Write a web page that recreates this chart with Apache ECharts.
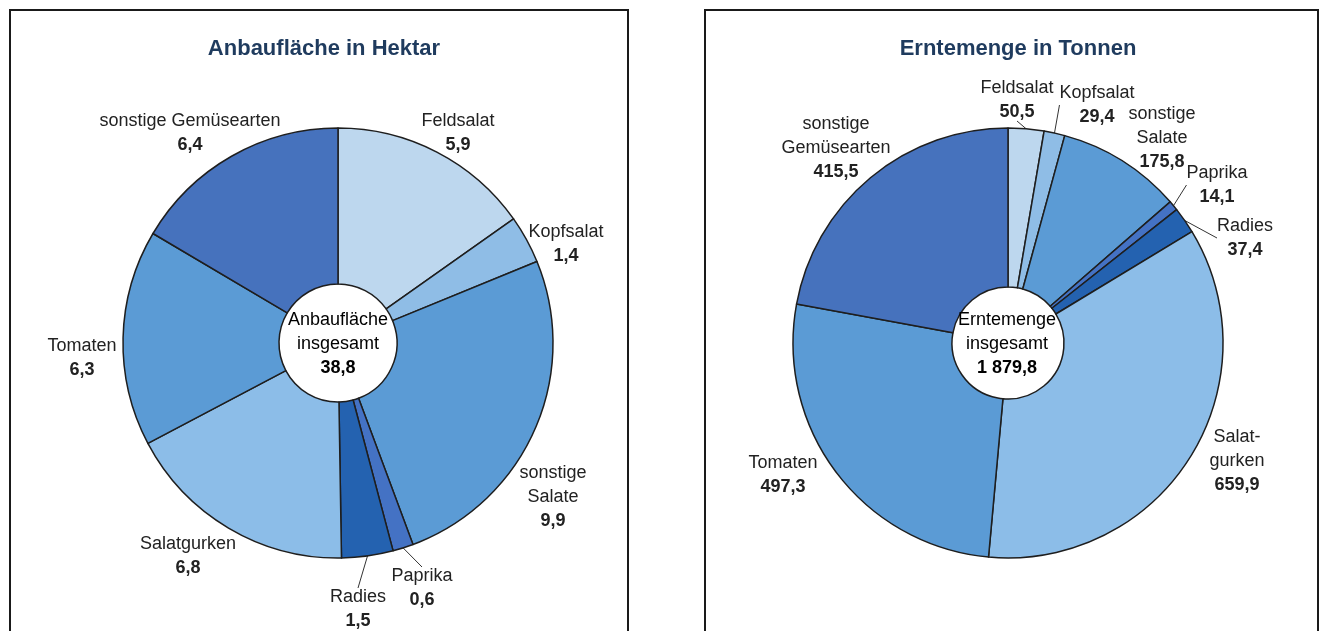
<!DOCTYPE html>
<html>
<head>
    <meta charset="UTF-8">
    <title>Anbaufläche und Erntemenge</title>
    <script src="https://cdn.jsdelivr.net/npm/echarts@6/dist/echarts.min.js"></script>
    <style>
        html, body { margin: 0; padding: 0; background: #fff; }
        #main { width: 1323px; height: 631px; }
    </style>
</head>
<body>
<div id="main"></div>
<script type="text/javascript">
    // Kategorien (im Uhrzeigersinn ab 12 Uhr)
    var categories = ['Feldsalat', 'Kopfsalat', 'sonstige Salate', 'Paprika', 'Radies', 'Salatgurken', 'Tomaten', 'sonstige Gemüsearten'];
    // Beschriftungen links / rechts (mit Zeilenumbruch)
    var namesLeft = ['Feldsalat', 'Kopfsalat', 'sonstige\nSalate', 'Paprika', 'Radies', 'Salatgurken', 'Tomaten', 'sonstige Gemüsearten'];
    var namesRight = ['Feldsalat', 'Kopfsalat', 'sonstige\nSalate', 'Paprika', 'Radies', 'Salat-\ngurken', 'Tomaten', 'sonstige\nGemüsearten'];
    var flaeche = [5.9, 1.4, 9.9, 0.6, 1.5, 6.8, 6.3, 6.4];
    var ernte = [50.5, 29.4, 175.8, 14.1, 37.4, 659.9, 497.3, 415.5];
    var flaecheGesamt = 38.8;
    var ernteGesamt = 1879.8;
    var colors = ['#bdd7ee', '#8fbde6', '#5b9bd5', '#4472c4', '#2462b0', '#8cbde8', '#5b9bd5', '#4672bd'];

    // Position der Beschriftungen (Textmitte)
    var posLeft = [[458, 133], [566, 244], [553, 497], [422, 588], [358, 609], [188, 556], [82, 358], [190, 133]];
    var posRight = [[1017, 100], [1097, 105], [1162, 138], [1217, 185], [1245, 238], [1237, 461], [783, 475], [836, 148]];
    var linesLeft = [false, false, false, true, true, false, false, false];
    var linesRight = [true, true, false, true, true, false, false, false];

    var font = '"Liberation Sans Narrow", "Liberation Sans", Arial, sans-serif';

    function fmt(v) {
        var s = v.toFixed(1).split('.');
        var ganz = s[0].replace(/\B(?=(\d{3})+(?!\d))/g, ' ');
        return ganz + ',' + s[1];
    }

    var richText = {
        n: { fontFamily: font, fontSize: 18, color: '#222', lineHeight: 24, align: 'center' },
        b: { fontFamily: font, fontSize: 18, fontWeight: 'bold', color: '#222', lineHeight: 24, align: 'center' }
    };

    function buildData(values, names, lines) {
        return values.map(function (v, i) {
            return {
                value: v,
                name: categories[i],
                label: {
                    formatter: function () {
                        return names[i].split('\n').map(function (t) { return '{n|' + t + '}'; }).join('\n') + '\n{b|' + fmt(v) + '}';
                    }
                },
                labelLine: { show: lines[i] },
                itemStyle: { color: colors[i] }
            };
        });
    }

    function buildSeries(values, names, lines, center, inner, pos) {
        return {
            type: 'pie',
            center: center,
            radius: [inner, 215],
            startAngle: 90,
            clockwise: true,
            silent: true,
            avoidLabelOverlap: false,
            itemStyle: { borderColor: '#1e1e1e', borderWidth: 1.5 },
            label: { show: true, position: 'outside', rich: richText },
            labelLine: { lineStyle: { color: '#333', width: 1 }, length: 10, length2: 0 },
            labelLayout: function (p) {
                var xy = pos[p.dataIndex];
                return { x: xy[0], y: xy[1], align: 'center', verticalAlign: 'middle' };
            },
            data: buildData(values, names, lines)
        };
    }

    function centerText(x, y, line1, total) {
        return {
            type: 'text',
            x: x,
            y: y,
            style: {
                text: '{n|' + line1 + '}\n{n|insgesamt}\n{b|' + fmt(total) + '}',
                align: 'center',
                verticalAlign: 'middle',
                rich: richText
            },
            z: 10
        };
    }

    var myChart = echarts.init(document.getElementById('main'));

    var option = {
        backgroundColor: '#fff',
        animation: false,
        title: [
            {
                text: 'Anbaufläche in Hektar', left: 319, top: 33, textAlign: 'center',
                textStyle: { fontFamily: font, fontSize: 22, fontWeight: 'bold', color: '#1f3b5e' }
            },
            {
                text: 'Erntemenge in Tonnen', left: 1013, top: 33, textAlign: 'center',
                textStyle: { fontFamily: font, fontSize: 22, fontWeight: 'bold', color: '#1f3b5e' }
            }
        ],
        graphic: [
            { type: 'rect', shape: { x: 10, y: 10, width: 618, height: 640 }, style: { fill: 'none', stroke: '#1a1a1a', lineWidth: 2 } },
            { type: 'rect', shape: { x: 705, y: 10, width: 613, height: 640 }, style: { fill: 'none', stroke: '#1a1a1a', lineWidth: 2 } },
            centerText(338, 344, 'Anbaufläche', flaecheGesamt),
            centerText(1007, 344, 'Erntemenge', ernteGesamt)
        ],
        series: [
            buildSeries(flaeche, namesLeft, linesLeft, [338, 343], 59, posLeft),
            buildSeries(ernte, namesRight, linesRight, [1008, 343], 56, posRight)
        ]
    };

    myChart.setOption(option);
</script>
</body>
</html>
